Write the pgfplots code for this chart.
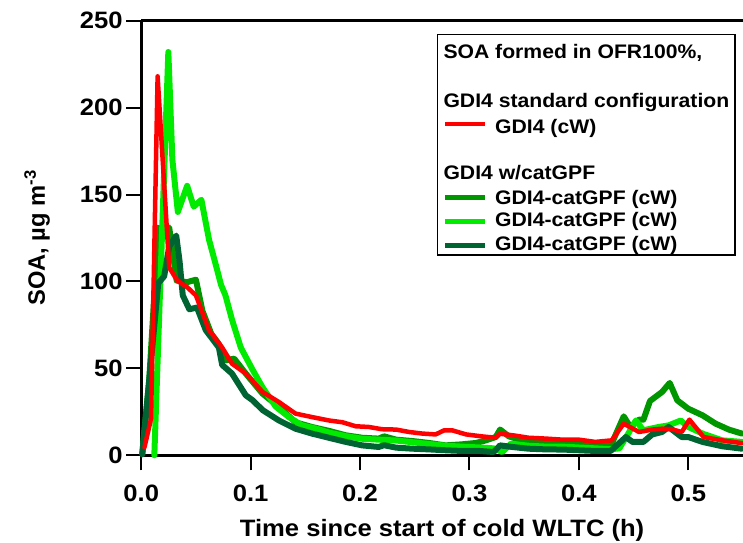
\documentclass[border=0pt]{standalone}
\usepackage{fontspec}
\setmainfont{Liberation Sans}[FakeStretch=1.08]
\newfontfamily\ylabfont{Liberation Sans}
\usepackage{pgfplots}
\pgfplotsset{compat=1.18}
\usepackage{pgfplotstable}
\definecolor{cgA}{RGB}{0,150,0}
\definecolor{cgB}{RGB}{0,235,0}
\definecolor{cgC}{RGB}{0,100,50}
\definecolor{cred}{RGB}{255,0,0}
\newcommand{\tickfont}{\bfseries\fontsize{23.7bp}{28bp}\selectfont}
\newcommand{\legfont}{\bfseries\fontsize{19.6bp}{24bp}\selectfont}

\pgfplotstableread{
x y
0.003 4.6
0.009 21
0.015 218
0.0256 108
0.033 100.5
0.042 96.7
0.050 92
0.062 72
0.074 62
0.083 52.7
0.0956 47
0.111 36.4
0.126 30.6
0.141 24
0.156 22
0.172 20
0.184 19
0.196 16.7
0.208 16.3
0.220 15
0.233 14.8
0.245 13.4
0.257 12.5
0.269 12
0.277 14.4
0.284 14.4
0.297 12
0.311 10.9
0.324 10.1
0.328 12.4
0.342 11.3
0.354 10.1
0.370 9.6
0.385 9
0.400 9
0.415 7.7
0.430 8.6
0.441 18.2
0.455 13.4
0.467 14.8
0.476 15.3
0.485 15
0.494 13.4
0.501 20.5
0.514 10.5
0.531 8.6
0.549 7
}\redtab

\pgfplotstableread{
x y
0.001 1
0.0073 43
0.0157 131
0.0213 127.5
0.0256 131
0.0324 100.5
0.042 99.6
0.050 101
0.056 83
0.064 70
0.071 64
0.077 54.6
0.085 55.6
0.0956 47
0.111 35.4
0.126 27.8
0.141 19
0.156 16.3
0.172 14
0.187 11.5
0.202 10.1
0.217 9.6
0.222 10.9
0.233 9
0.248 8.2
0.263 7.1
0.278 5.7
0.293 6.3
0.306 7.1
0.315 8.6
0.324 10.5
0.328 14.8
0.336 10.9
0.348 8.6
0.370 7.7
0.385 7.1
0.400 6.7
0.415 5.7
0.430 6.7
0.441 22.4
0.447 16.3
0.455 20.5
0.459 20.5
0.465 31.2
0.476 36.4
0.483 41.6
0.490 31.6
0.500 26.8
0.513 23
0.525 18.2
0.537 14.8
0.549 12.5
}\gAtab

\pgfplotstableread{
x y
0.012 0
0.0248 232
0.0285 170
0.0335 140
0.042 155
0.048 143
0.055 147
0.062 124
0.068 110
0.073 98
0.077 92
0.083 78
0.091 62
0.102 49
0.111 39
0.123 28
0.135 22
0.147 17.2
0.160 15.3
0.172 13
0.187 11
0.202 9.5
0.217 9
0.233 8.5
0.248 7.5
0.263 6.5
0.278 5.5
0.293 5
0.309 4.5
0.322 4
0.330 1.9
0.338 6.7
0.354 5.5
0.370 5
0.385 5
0.400 4.5
0.415 4
0.430 3.5
0.437 4
0.446 13.4
0.452 20
0.459 14.4
0.473 16.3
0.482 17.2
0.493 20
0.500 16.3
0.513 12.5
0.531 8.6
0.549 7.7
}\gBtab

\pgfplotstableread{
x y
0.001 0.5
0.0156 99
0.021 103
0.0256 120
0.032 126.4
0.035 112
0.038 92
0.044 84
0.051 85
0.059 72
0.065 67
0.071 62
0.074 52
0.083 47
0.0956 34.5
0.102 31.6
0.111 26
0.126 20
0.141 15.3
0.156 12.5
0.172 10
0.187 7.7
0.202 5.7
0.217 4.8
0.222 5.8
0.233 4.4
0.248 3.8
0.263 3.4
0.278 2.9
0.293 2.5
0.309 2.5
0.322 1.9
0.328 5.7
0.339 4.8
0.354 3.8
0.370 3.4
0.385 3.3
0.400 2.9
0.415 2.5
0.429 2.5
0.443 10.5
0.449 7.7
0.459 7.7
0.467 12
0.476 13.4
0.482 16.3
0.494 10.5
0.500 10.5
0.513 7.7
0.531 5.2
0.549 3.8
}\gCtab

\begin{document}
\begin{tikzpicture}
\begin{axis}[
  at={(0,0)}, anchor=south west, scale only axis,
  width=601.8bp, height=434.6bp,
  xmin=0, xmax=0.55, ymin=0, ymax=250,
  axis x line=bottom, axis y line=left,
  axis line style={-, line width=2.8bp, black},
  xtick={0,0.1,0.2,0.3,0.4,0.5},
  ytick={0,50,100,150,200,250},
  minor tick num=0,
  scaled ticks=false,
  tick align=outside, major tick length=15bp,
  tick style={line width=2bp, black},
  /pgf/number format/assume math mode=true,
  ticklabel style={font=\tickfont},
  x tick label style={/pgf/number format/.cd, fixed, fixed zerofill, precision=1, /tikz/.cd, yshift=-11bp},
  y tick label style={/pgf/number format/fixed},
  xlabel={Time since start of cold WLTC (h)},
  ylabel={{\ylabfont SOA, µg m\textsuperscript{-3}}},
  xlabel style={font=\tickfont, at={(axis description cs:0.5,-0.1868)}, anchor=base, inner sep=0pt},
  ylabel style={font=\bfseries\fontsize{23.7bp}{28bp}\selectfont, at={(axis description cs:-0.1599,0.5)}, anchor=base, inner sep=0pt, rotate=0},
  clip=false,
  every axis plot/.append style={line join=round, line cap=round},
]
\addplot[cgA, line width=6bp] table {\gAtab};
\addplot[cgB, line width=6bp] table {\gBtab};
\addplot[cgC, line width=6bp] table {\gCtab};
\addplot[cred, line width=4.5bp] table {\redtab};
\draw[line width=2.8bp] (rel axis cs:0,1) -- (rel axis cs:1,1);
\end{axis}
% legend
\draw[line width=1.5bp] (296.1bp,421bp) rectangle (593.8bp,200.3bp);
\node[anchor=base west, inner sep=0pt, font=\legfont] at (302.1bp,397bp) {SOA formed in OFR100\%,};
\node[anchor=base west, inner sep=0pt, font=\legfont] at (302.1bp,347.6bp) {GDI4 standard configuration};
\node[anchor=base west, inner sep=0pt, font=\legfont] at (353.8bp,322bp) {GDI4 (cW)};
\node[anchor=base west, inner sep=0pt, font=\legfont] at (302.1bp,275.3bp) {GDI4 w/catGPF};
\node[anchor=base west, inner sep=0pt, font=\legfont] at (353.8bp,250.3bp) {GDI4-catGPF (cW)};
\node[anchor=base west, inner sep=0pt, font=\legfont] at (353.8bp,228.6bp) {GDI4-catGPF (cW)};
\node[anchor=base west, inner sep=0pt, font=\legfont] at (353.8bp,204.6bp) {GDI4-catGPF (cW)};
\draw[cred, line width=3.5bp] (303.8bp,331.3bp) -- (343.8bp,331.3bp);
\draw[cgA, line width=5bp] (303.8bp,257.6bp) -- (343.8bp,257.6bp);
\draw[cgB, line width=5bp] (303.8bp,233.3bp) -- (343.8bp,233.3bp);
\draw[cgC, line width=5bp] (303.8bp,209.3bp) -- (343.8bp,209.3bp);
\pgfresetboundingbox
\useasboundingbox (-141.2bp,-87.7bp) rectangle (601.8bp,455.3bp);
\end{tikzpicture}
\end{document}
